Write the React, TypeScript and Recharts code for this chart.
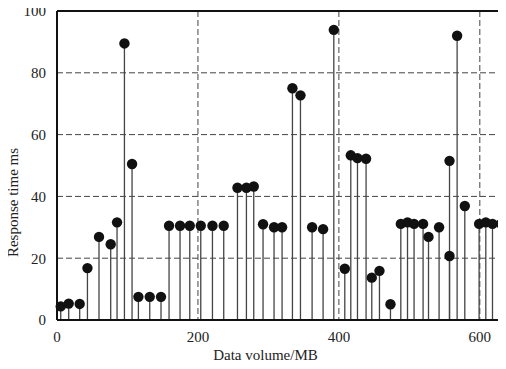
import {
  ScatterChart,
  Scatter,
  XAxis,
  YAxis,
  CartesianGrid,
  ErrorBar,
  ReferenceLine,
} from "recharts";

// data volume (MB) of each request
const volumes = [
  5.3, 16.6, 32.2, 43.2, 59.6, 76.2, 85.2, 95.7, 106.5, 115.5, 131.6, 147.6,
  159.0, 174.6, 188.4, 204.0, 220.6, 236.6, 256.1, 268.8, 279.2, 292.4, 308.0,
  319.4, 334.1, 345.5, 362.0, 377.6, 392.8, 408.4, 416.9, 426.4, 438.6, 446.7,
  457.6, 473.2, 487.9, 497.4, 506.7, 519.5, 527.2, 542.2, 557.0, 557.0, 567.8,
  578.7, 599.0, 608.5, 618.0, 630.2, 636.9,
];

// response time (ms)
const responseTimes = [
  4.4, 5.3, 5.2, 16.8, 26.9, 24.5, 31.6, 89.5, 50.5, 7.5, 7.5, 7.5, 30.5, 30.5,
  30.5, 30.5, 30.5, 30.5, 42.8, 42.8, 43.2, 31.0, 30.0, 30.0, 75.0, 72.7, 30.0,
  29.4, 93.9, 16.6, 53.3, 52.4, 52.2, 13.7, 15.9, 5.1, 31.1, 31.6, 31.1, 31.1,
  26.9, 30.0, 51.5, 20.7, 92.0, 36.9, 31.1, 31.6, 31.1, 31.1, 26.9,
];

const xTicks = [0, 200, 400, 600];
const yTicks = [0, 20, 40, 60, 80, 100];

const points = volumes.map((x, i) => ({
  x,
  y: responseTimes[i],
  stem: [responseTimes[i], 0], // error bar down to zero = the stem
}));

const tickStyle = { fill: "#222", fontSize: 15 };

const Dot = (props: any) => (
  <circle cx={props.cx} cy={props.cy} r={5.2} fill="#111" />
);

export default function App() {
  return (
    <div
      style={{
        width: 506,
        height: 369,
        margin: -8,
        overflow: "hidden",
        fontFamily: "'Liberation Serif', 'DejaVu Serif', serif",
      }}
    >
      <ScatterChart
        width={508}
        height={369}
        margin={{ top: 11, right: 0, bottom: 9, left: 8 }}
      >
        <CartesianGrid strokeDasharray="6 3" stroke="#444" />
        <XAxis
          type="number"
          dataKey="x"
          domain={[0, 640]}
          ticks={xTicks}
          height={40}
          tickSize={0}
          tickMargin={11}
          tick={tickStyle}
          axisLine={{ stroke: "#111", strokeWidth: 2 }}
          label={{
            value: "Data volume/MB",
            position: "insideBottom",
            offset: 0,
            dx: -17,
            style: { fill: "#222", fontSize: 15 },
          }}
        />
        <YAxis
          type="number"
          dataKey="y"
          domain={[0, 100]}
          ticks={yTicks}
          width={49}
          tickSize={0}
          tickMargin={11}
          tick={tickStyle}
          axisLine={{ stroke: "#111", strokeWidth: 2 }}
          label={{
            value: "Response time ms",
            angle: -90,
            position: "insideLeft",
            offset: 5,
            dy: 37,
            style: { fill: "#222", fontSize: 15, textAnchor: "middle" },
          }}
        />
        <ReferenceLine y={100} stroke="#111" strokeWidth={2} />
        <Scatter data={points} shape={<Dot />} isAnimationActive={false}>
          <ErrorBar
            dataKey="stem"
            direction="y"
            width={0}
            stroke="#444"
            strokeWidth={1.3}
            isAnimationActive={false}
          />
        </Scatter>
      </ScatterChart>
    </div>
  );
}
